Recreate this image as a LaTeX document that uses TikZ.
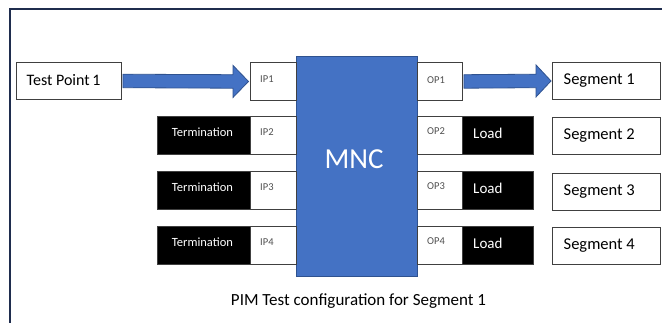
\documentclass[tikz,border=0pt]{standalone}
\usepackage{fontspec}
\setmainfont{Carlito}
\usetikzlibrary{calc}
\definecolor{frameblue}{HTML}{1F2D4E}
\definecolor{mncfill}{HTML}{4472C4}
\definecolor{mncline}{HTML}{2F528F}
\definecolor{boxline}{HTML}{404040}
\definecolor{portgrey}{HTML}{505050}
\tikzset{
  wbox/.style={draw=boxline, fill=white, line width=0.9pt, inner sep=0pt, anchor=north west},
  kbox/.style={draw=boxline, fill=black, line width=0.9pt, inner sep=0pt, anchor=north west},
  port/.style={wbox, minimum width=46pt, minimum height=38pt},
  blk/.style={kbox, minimum width=93pt, minimum height=38pt},
  ldbox/.style={kbox, minimum width=71pt, minimum height=38pt},
  segbox/.style={wbox, minimum width=108pt, minimum height=37pt},
  portlabel/.style={anchor=west, inner sep=0pt, text=portgrey, font=\fontsize{10.5}{12}\selectfont},
  termlabel/.style={inner sep=0pt, text=white, font=\fontsize{12.5}{14}\selectfont},
  loadlabel/.style={anchor=west, inner sep=0pt, text=white, font=\fontsize{15}{17}\selectfont},
  seglabel/.style={anchor=west, inner sep=0pt, font=\fontsize{16.5}{19}\selectfont},
  blockarrow/.style={fill=mncfill, draw=mncline, line width=0.8pt, line join=miter}
}
\begin{document}
\begin{tikzpicture}[x=1pt, y=-1pt]
  \clip (0,0) rectangle (662,322);
  \fill[white] (0,0) rectangle (662,322);
  % outer frame, running past the right and bottom edges
  \draw[frameblue, line width=2pt] (9.5,9) rectangle (720,380);

  % central MNC block
  \node[draw=mncline, fill=mncfill, line width=0.8pt, inner sep=0pt, anchor=north west,
        minimum width=121pt, minimum height=220pt] (mnc) at (296,56) {};
  \node[text=white, inner sep=0pt, font=\fontsize{29}{32}\selectfont] (mnct) at (354,159) {MNC};

  % source
  \node[wbox, minimum width=105pt, minimum height=37pt] (tp) at (16,62) {};
  \node[seglabel, font=\fontsize{16}{19}\selectfont] (tpt) at (26.5,80.5) {Test Point\,1};

  % input ports
  \node[port] (ip1) at (250,62) {};
  \node[port] (ip2) at (250,116) {};
  \node[port] (ip3) at (250,171) {};
  \node[port] (ip4) at (250,226) {};
  \node[portlabel] (ip1t) at ([xshift=10pt,yshift=2pt]ip1.west) {IP1};
  \node[portlabel] (ip2t) at ([xshift=10pt,yshift=3.5pt]ip2.west) {IP2};
  \node[portlabel] (ip3t) at ([xshift=10pt,yshift=3.5pt]ip3.west) {IP3};
  \node[portlabel] (ip4t) at ([xshift=10pt,yshift=3.5pt]ip4.west) {IP4};

  % terminations
  \node[blk] (term2) at (157,116) {};
  \node[blk] (term3) at (157,171) {};
  \node[blk] (term4) at (157,226) {};
  \node[termlabel] (term2t) at ([xshift=-1.5pt,yshift=3pt]term2.center) {Termination};
  \node[termlabel] (term3t) at ([xshift=-1.5pt,yshift=3pt]term3.center) {Termination};
  \node[termlabel] (term4t) at ([xshift=-1.5pt,yshift=3pt]term4.center) {Termination};

  % output ports
  \node[port, minimum width=45pt] (op1) at (417,62) {};
  \node[port, minimum width=45pt] (op2) at (417,116) {};
  \node[port, minimum width=45pt] (op3) at (417,171) {};
  \node[port, minimum width=45pt] (op4) at (417,226) {};
  \node[portlabel] (op1t) at ([xshift=10pt,yshift=1pt]op1.west) {OP1};
  \node[portlabel] (op2t) at ([xshift=10pt,yshift=4pt]op2.west) {OP2};
  \node[portlabel] (op3t) at ([xshift=10pt,yshift=4pt]op3.west) {OP3};
  \node[portlabel] (op4t) at ([xshift=10pt,yshift=4pt]op4.west) {OP4};

  % loads
  \node[ldbox] (load2) at (462,116) {};
  \node[ldbox] (load3) at (462,171) {};
  \node[ldbox] (load4) at (462,226) {};
  \node[loadlabel] (load2t) at ([xshift=11pt,yshift=2pt]load2.west) {Load};
  \node[loadlabel] (load3t) at ([xshift=11pt,yshift=2pt]load3.west) {Load};
  \node[loadlabel] (load4t) at ([xshift=11pt,yshift=2pt]load4.west) {Load};

  % segments
  \node[segbox] (seg1) at (552,62) {};
  \node[segbox] (seg2) at (552,117) {};
  \node[segbox] (seg3) at (552,173) {};
  \node[segbox] (seg4) at (552,227) {};
  \node[seglabel] (seg1t) at ([xshift=11.5pt]seg1.west) {Segment 1};
  \node[seglabel] (seg2t) at ([xshift=11.5pt]seg2.west) {Segment 2};
  \node[seglabel] (seg3t) at ([xshift=11.5pt]seg3.west) {Segment 3};
  \node[seglabel] (seg4t) at ([xshift=11.5pt]seg4.west) {Segment 4};

  % block arrows: test point -> IP1, OP1 -> segment 1
  \draw[blockarrow]
    ($(tp.east)+(1,-6.75)$) -- ($(ip1.west)+(-17,-6.75)$) -- ($(ip1.west)+(-17,-16)$)
    -- ($(ip1.west)+(-1.5,0)$) -- ($(ip1.west)+(-17,16)$) -- ($(ip1.west)+(-17,6.75)$)
    -- ($(tp.east)+(1,6.75)$) -- cycle;
  \draw[blockarrow]
    ($(op1.east)+(1,-6.75)$) -- ($(seg1.west)+(-16,-6.75)$) -- ($(seg1.west)+(-16,-16)$)
    -- ($(seg1.west)+(-1,0)$) -- ($(seg1.west)+(-16,16)$) -- ($(seg1.west)+(-16,6.75)$)
    -- ($(op1.east)+(1,6.75)$) -- cycle;

  % caption
  \node[inner sep=0pt, font=\fontsize{17}{20}\selectfont] (cap) at (358.5,301) {PIM Test configuration for Segment 1};
\end{tikzpicture}
\end{document}
